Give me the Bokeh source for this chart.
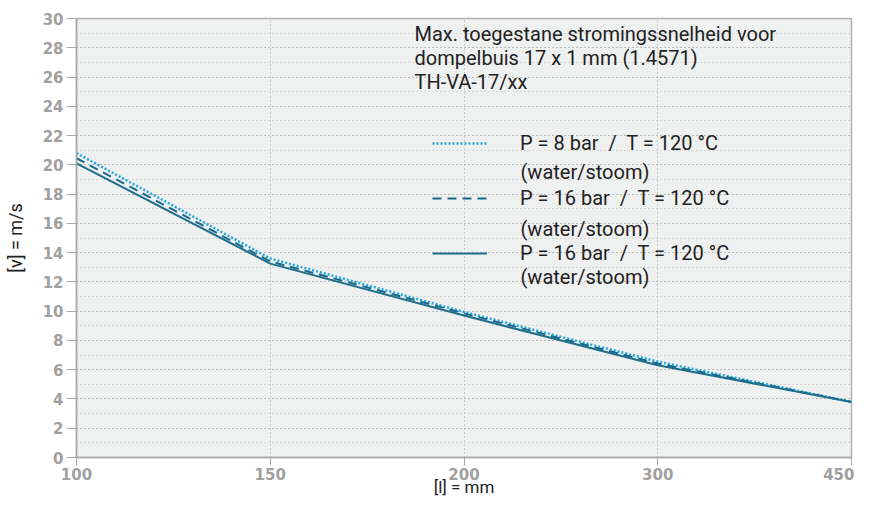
from bokeh.plotting import figure
from bokeh.models import FixedTicker, Legend, LegendItem, Label, Range1d
from bokeh.embed import file_html
from bokeh.resources import INLINE

# ---- data ----
x_labels = ["100", "150", "200", "300", "450"]
x_pos = [0, 1, 2, 3, 4]
v_8bar = [20.8, 13.6, 9.95, 6.55, 3.8]
v_16bar_a = [20.45, 13.4, 9.85, 6.42, 3.8]
v_16bar_b = [20.1, 13.25, 9.7, 6.3, 3.8]
series_labels = ["P = 8 bar  /  T = 120 °C",
                 "P = 16 bar  /  T = 120 °C",
                 "P = 16 bar  /  T = 120 °C"]
sub_label = "(water/stoom)"
title_text = "Max. toegestane stromingssnelheid voor\ndompelbuis 17 x 1 mm (1.4571)\nTH-VA-17/xx"
x_title = "[l] = mm"
y_title = "[v] = m/s"
y_ticks = list(range(0, 31, 2))
y_minor = list(range(0, 31, 1))

TICK_FONT = "DejaVu Sans"
TEXT_FONT = "Roboto"
TXT = "#222222"

p = figure(width=854, height=499, output_backend="svg", toolbar_location=None,
           x_range=Range1d(0, 4), y_range=Range1d(0, 30),
           min_border_left=76, min_border_right=3, min_border_top=18,
           min_border_bottom=39)

p.background_fill_color = "#eff0f0"
p.border_fill_color = "white"
p.outline_line_color = "#b0b0b0"
p.outline_line_width = 1.5

# axes
p.xaxis.ticker = FixedTicker(ticks=x_pos)
p.xaxis.major_label_overrides = {i: s for i, s in zip(x_pos, x_labels)}
p.yaxis.ticker = FixedTicker(ticks=y_ticks, minor_ticks=y_minor)
for ax in (p.xaxis, p.yaxis):
    ax.axis_line_color = "#a8a8a8"
    ax.axis_line_width = 1.5
    ax.major_tick_line_color = "#a8a8a8"
    ax.major_tick_in = 0
    ax.minor_tick_line_color = None
    ax.major_label_text_color = "#a0a0a0"
    ax.major_label_text_font = TICK_FONT
    ax.major_label_text_font_size = "15px"
    ax.major_label_text_font_style = "bold"
    ax.axis_label_text_font = TEXT_FONT
    ax.axis_label_text_font_style = "normal"
    ax.axis_label_text_color = TXT
p.xaxis.major_tick_out = 8
p.yaxis.major_tick_out = 10
p.xaxis.major_label_standoff = 2
p.yaxis.major_label_standoff = 3
p.xaxis.axis_label = x_title
p.xaxis.axis_label_text_font_size = "17px"
p.xaxis.axis_label_standoff = -6
p.yaxis.axis_label = y_title
p.yaxis.axis_label_text_font_size = "18px"
p.yaxis.axis_label_standoff = 14

# grids
p.xgrid.grid_line_color = "#a0a0a0"
p.xgrid.grid_line_dash = "1 3"
p.xgrid.grid_line_width = 1
p.ygrid.grid_line_color = "#a0a0a0"
p.ygrid.grid_line_dash = "1 3"
p.ygrid.minor_grid_line_color = "#b8b8b8"
p.ygrid.minor_grid_line_dash = "1 3"

# lines
r1 = p.line(x_pos, v_8bar, line_color="#1fa8e0", line_width=2.5, line_dash="2 2")
r2 = p.line(x_pos, v_16bar_a, line_color="#17698a", line_width=2, line_dash="9 6")
r3 = p.line(x_pos, v_16bar_b, line_color="#1f6e8c", line_width=2)

legend = Legend(items=[LegendItem(label=series_labels[0], renderers=[r1]),
                       LegendItem(label=series_labels[1], renderers=[r2]),
                       LegendItem(label=series_labels[2], renderers=[r3])],
                location=(356, 192), orientation="vertical",
                background_fill_alpha=0, border_line_color=None,
                padding=0, margin=0, spacing=31,
                glyph_width=55, glyph_height=22, label_height=22,
                label_standoff=33,
                label_text_font=TEXT_FONT, label_text_font_size="20px",
                label_text_color=TXT)
p.add_layout(legend, "center")

for yc in (286, 229, 181):
    p.add_layout(Label(x=444, y=yc, x_units="screen", y_units="screen",
                       text=sub_label, text_font=TEXT_FONT,
                       text_font_size="20px", text_color=TXT,
                       text_baseline="middle"))

p.add_layout(Label(x=338, y=436, x_units="screen", y_units="screen",
                   text=title_text, text_font=TEXT_FONT,
                   text_font_size="20px", text_color=TXT,
                   text_baseline="top", text_line_height=1.02))

open("out.html", "w").write(file_html(p, INLINE))
